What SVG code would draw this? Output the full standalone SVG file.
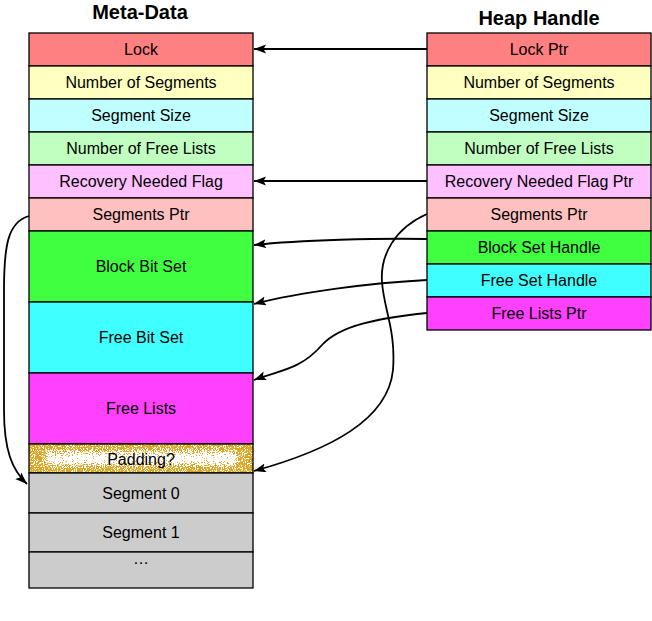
<svg xmlns="http://www.w3.org/2000/svg" width="652" height="621" viewBox="0 0 652 621">
<style>
.box{stroke:#000;stroke-width:1.3}
.t{font-family:"Liberation Sans",Arial,sans-serif;font-size:16px;text-anchor:middle;fill:#000}
.title{font-family:"Liberation Sans",Arial,sans-serif;font-size:20px;font-weight:bold;text-anchor:middle;fill:#000}
.c{fill:none;stroke:#000;stroke-width:1.8}
</style>
<defs>
<marker id="ah" markerUnits="userSpaceOnUse" markerWidth="14" markerHeight="10" refX="12" refY="4.5" orient="auto">
<path d="M0,0 L12,4.5 L0,9 L2.5,4.5 z" fill="#000"/>
</marker>
<filter id="grain" filterUnits="userSpaceOnUse" primitiveUnits="userSpaceOnUse" x="29" y="444" width="224" height="29" color-interpolation-filters="sRGB">
<feTurbulence type="fractalNoise" baseFrequency="0.9" numOctaves="2" seed="4" x="29" y="444" width="224" height="29" result="n0"/>
<feColorMatrix in="n0" type="matrix" values="1 0 0 0 0  1 0 0 0 0  1 0 0 0 0  0 0 0 0 1" x="29" y="444" width="224" height="29" result="n"/>
<feFlood flood-color="#4a4a4a" x="46" y="453" width="190" height="11" result="f"/>
<feGaussianBlur in="f" stdDeviation="3" x="29" y="444" width="224" height="29" result="fb"/>
<feComposite in="n" in2="fb" operator="arithmetic" k1="0" k2="1" k3="1" k4="0" x="29" y="444" width="224" height="29" result="s"/>
<feColorMatrix in="s" type="matrix" values="0 0 0 0 0.86  0 0 0 0 0.65  0 0 0 0 0.14  -14 0 0 0 8.6" x="29" y="444" width="224" height="29"/>
</filter>
</defs>
<rect width="652" height="621" fill="#fff"/>
<text class="title" x="140" y="19">Meta-Data</text>
<text class="title" x="539" y="25">Heap Handle</text>

<g id="meta-data">
<g id="md-lock"><rect class="box" x="29" y="33" width="224" height="33" fill="#FF8080"/><text class="t" x="141" y="55">Lock</text></g>
<g id="md-numseg"><rect class="box" x="29" y="66" width="224" height="33" fill="#FFFFC0"/><text class="t" x="141" y="88">Number of Segments</text></g>
<g id="md-segsize"><rect class="box" x="29" y="99" width="224" height="33" fill="#C0FFFF"/><text class="t" x="141" y="121">Segment Size</text></g>
<g id="md-numfree"><rect class="box" x="29" y="132" width="224" height="33" fill="#C0FFC0"/><text class="t" x="141" y="154">Number of Free Lists</text></g>
<g id="md-recovery"><rect class="box" x="29" y="165" width="224" height="33" fill="#FFC0FF"/><text class="t" x="141" y="187">Recovery Needed Flag</text></g>
<g id="md-segptr"><rect class="box" x="29" y="198" width="224" height="33" fill="#FFC0C0"/><text class="t" x="141" y="220">Segments Ptr</text></g>
<g id="md-blockbits"><rect class="box" x="29" y="231" width="224" height="71" fill="#40FF40"/><text class="t" x="141" y="272">Block Bit Set</text></g>
<g id="md-freebits"><rect class="box" x="29" y="302" width="224" height="71" fill="#40FFFF"/><text class="t" x="141" y="343">Free Bit Set</text></g>
<g id="md-freelists"><rect class="box" x="29" y="373" width="224" height="71" fill="#FF40FF"/><text class="t" x="141" y="414">Free Lists</text></g>
<g id="md-padding"><rect x="29" y="444" width="224" height="29" fill="#fff"/><rect x="29" y="444" width="224" height="29" fill="#000" filter="url(#grain)"/><rect class="box" x="29" y="444" width="224" height="29" fill="none"/><text class="t" x="141" y="465">Padding?</text></g>
<g id="md-seg0"><rect class="box" x="29" y="473" width="224" height="40" fill="#CCCCCC"/><text class="t" x="141" y="499">Segment 0</text></g>
<g id="md-seg1"><rect class="box" x="29" y="513" width="224" height="39" fill="#CCCCCC"/><text class="t" x="141" y="538">Segment 1</text></g>
<g id="md-more"><rect class="box" x="29" y="552" width="224" height="36" fill="#CCCCCC"/><text class="t" x="141" y="564">…</text></g>
</g>

<g id="heap-handle">
<g id="hh-lock"><rect class="box" x="427" y="33" width="224" height="33" fill="#FF8080"/><text class="t" x="539" y="55">Lock Ptr</text></g>
<g id="hh-numseg"><rect class="box" x="427" y="66" width="224" height="33" fill="#FFFFC0"/><text class="t" x="539" y="88">Number of Segments</text></g>
<g id="hh-segsize"><rect class="box" x="427" y="99" width="224" height="33" fill="#C0FFFF"/><text class="t" x="539" y="121">Segment Size</text></g>
<g id="hh-numfree"><rect class="box" x="427" y="132" width="224" height="33" fill="#C0FFC0"/><text class="t" x="539" y="154">Number of Free Lists</text></g>
<g id="hh-recovery"><rect class="box" x="427" y="165" width="224" height="33" fill="#FFC0FF"/><text class="t" x="539" y="187">Recovery Needed Flag Ptr</text></g>
<g id="hh-segptr"><rect class="box" x="427" y="198" width="224" height="33" fill="#FFC0C0"/><text class="t" x="539" y="220">Segments Ptr</text></g>
<g id="hh-blockset"><rect class="box" x="427" y="231" width="224" height="33" fill="#40FF40"/><text class="t" x="539" y="253">Block Set Handle</text></g>
<g id="hh-freeset"><rect class="box" x="427" y="264" width="224" height="33" fill="#40FFFF"/><text class="t" x="539" y="286">Free Set Handle</text></g>
<g id="hh-freelists"><rect class="box" x="427" y="297" width="224" height="33" fill="#FF40FF"/><text class="t" x="539" y="319">Free Lists Ptr</text></g>
</g>

<g id="connectors">
<path class="c" d="M427,49 L254,49" marker-end="url(#ah)"/>
<path class="c" d="M427,181 L254,181" marker-end="url(#ah)"/>
<path class="c" d="M427,239 C 380,238 300,240 254,245" marker-end="url(#ah)"/>
<path class="c" d="M427,280 C 370,283 300,292 254,304" marker-end="url(#ah)"/>
<path class="c" d="M427,313 C 380,318 340,325 322,345 C 300,370 280,370 254,380" marker-end="url(#ah)"/>
<path class="c" d="M427,214 C 395,228 380,255 382,282 C 384,310 396,330 393,370 C 388,420 330,450 254,471" marker-end="url(#ah)"/>
<path class="c" d="M29,216 C 8,222 4,245 4,290 L 4,410 C 4,450 12,470 27,484" marker-end="url(#ah)"/>
</g>
</svg>
